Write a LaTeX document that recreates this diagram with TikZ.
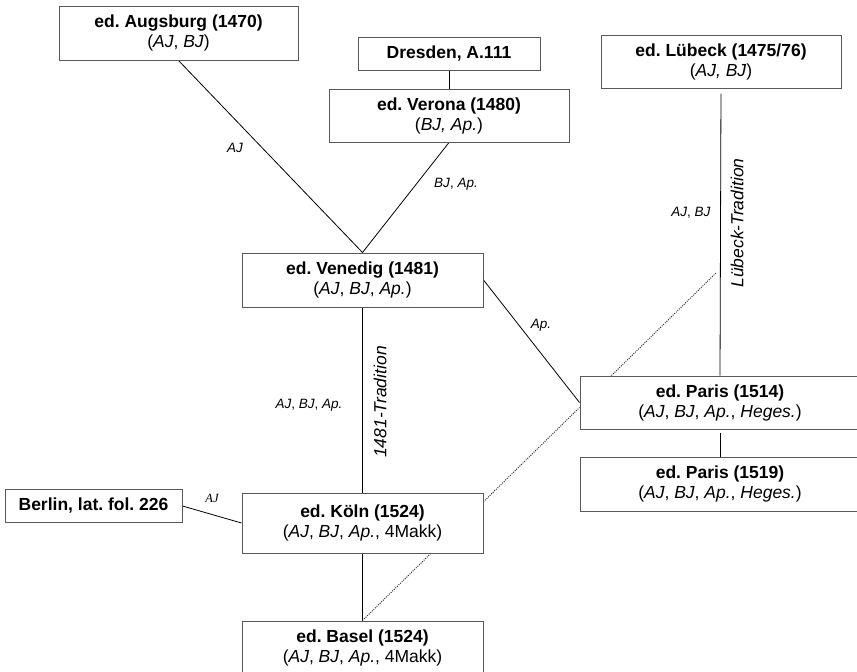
\documentclass[tikz,border=0pt]{standalone}
\usepackage{fontspec}
\setmainfont{Liberation Sans}
\newfontfamily\timesfont{Liberation Serif}
\usetikzlibrary{backgrounds}
\frenchspacing

\begin{document}
\begin{tikzpicture}[
    x=1pt, y=-1pt,
    box/.style={draw=black!65, line width=1pt, fill=white, align=center, inner sep=0pt,
        minimum width=241pt, minimum height=54pt, font=\fontsize{17.5}{20}\selectfont},
    widebox/.style={box, minimum width=280pt},
    singlebox/.style={box, minimum height=33pt},
    reading/.style={font=\fontsize{13.5}{16}\selectfont, inner sep=0pt},
    tradition/.style={font=\fontsize{17.5}{20}\selectfont\itshape, rotate=90, inner sep=0pt},
    link/.style={line width=0.8pt},
    contam/.style={line width=1pt, dash pattern=on 1pt off 1.2pt, black!80}
]
% Set manual bounding box
\useasboundingbox (0,0) rectangle (857,672);

% Editions and manuscripts
\node[box, minimum width=239pt] (augsburg) at (178.5,33) {\textbf{ed. Augsburg (1470)}\\(\textit{AJ}, \textit{BJ})};
\node[singlebox, minimum width=182pt] (dresden) at (449,53.5) {\textbf{Dresden, A.111}};
\node[box, minimum width=240pt, minimum height=53pt] (verona) at (449,115.5) {\textbf{ed. Verona (1480)}\\(\textit{BJ, Ap.})};
\node[box, minimum width=240pt, minimum height=53pt] (luebeck) at (721,61.5) {\textbf{ed. Lübeck (1475/76)}\\(\textit{AJ, BJ})};

\node[box] (venedig) at (362.5,280) {\textbf{ed. Venedig (1481)}\\(\textit{AJ}, \textit{BJ}, \textit{Ap.})};
\node[box, minimum height=60pt] (koeln) at (362.5,523) {\textbf{ed. Köln (1524)}\\(\textit{AJ}, \textit{BJ}, \textit{Ap.}, 4Makk)};
\node[box] (basel) at (362.5,648) {\textbf{ed. Basel (1524)}\\(\textit{AJ}, \textit{BJ}, \textit{Ap.}, 4Makk)};
\node[singlebox, minimum width=177pt] (berlin) at (93.5,506) {\textbf{Berlin, lat. fol. 226}};

\node[widebox, minimum height=53pt] (paris14) at (720,402.5) {\textbf{ed. Paris (1514)}\\(\textit{AJ}, \textit{BJ}, \textit{Ap.}, \textit{Heges.})};
\node[widebox] (paris19) at (720,484) {\textbf{ed. Paris (1519)}\\(\textit{AJ}, \textit{BJ}, \textit{Ap.}, \textit{Heges.})};

\coordinate (lubend) at (716,273);

% Connections
\begin{scope}[on background layer]
\draw[link] (augsburg.south) -- (venedig.north);
\draw[link] (verona.south) -- (venedig.north);
\draw[link] (dresden.south) -- (verona.north);
\draw[link, shorten <=5pt] (luebeck.south) -- (paris14.north);
\draw[link] (venedig.east) -- (paris14.west);
\draw[link] (venedig.south) -- (koeln.north);
\draw[link] (koeln.south) -- (basel.north);
\draw[link] (berlin.east) -- (koeln.west);
\draw[link, shorten <=3pt] (paris14.south) -- (paris19.north);
\draw[contam] (basel.north) -- ([yshift=-5pt]paris14.west);
\draw[contam] ([xshift=32pt]paris14.north west) -- (lubend);
\end{scope}

% Readings on the connections
\node[reading] (rdaug) at (235,148) {\textit{AJ}};
\node[reading] (rdver) at (456,184) {\textit{BJ}, \textit{Ap.}};
\node[reading] (rdlub) at (691,213) {\textit{AJ}, \textit{BJ}};
\node[reading] (rdpar) at (541,325) {\textit{Ap.}};
\node[reading] (rdven) at (309,405) {\textit{AJ}, \textit{BJ}, \textit{Ap.}};
\node[reading, font=\fontsize{12.5}{15}\timesfont\itshape] (rdber) at (212,498) {AJ};

\node[tradition] (trlub) at (737,223) {Lübeck-Tradition};
\node[tradition] (trven) at (380,402) {1481-Tradition};

\end{tikzpicture}
\end{document}
